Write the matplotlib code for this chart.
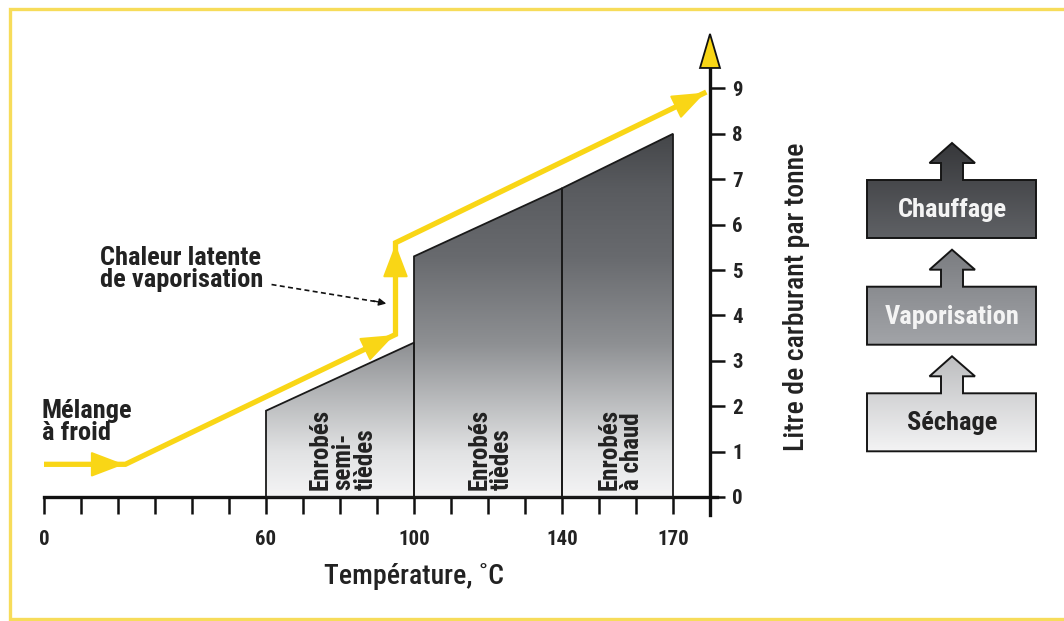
import matplotlib
matplotlib.use("Agg")
import matplotlib.pyplot as plt
import numpy as np
from matplotlib import font_manager
from matplotlib.patches import Polygon, FancyArrowPatch, ArrowStyle
from matplotlib.colors import LinearSegmentedColormap

# ---------------- data ----------------
temp_ticks = list(range(0, 190, 10))
temp_labels = {0: "0", 60: "60", 100: "100", 140: "140", 170: "170"}
fuel_ticks = list(range(0, 10))

region_names = ["Enrobés\nsemi-\ntièdes", "Enrobés\ntièdes", "Enrobés\nà chaud"]
region_x0 = [60, 100, 140]
region_x1 = [100, 140, 170]
region_y0 = [1.9, 5.3, 6.8]
region_y1 = [3.4, 6.8, 8.0]

path_x = [0, 22, 95, 95, 179]
path_y = [0.72, 0.72, 3.58, 5.6, 8.92]

stage_names = ["Séchage", "Vaporisation", "Chauffage"]

# ---------------- fonts ----------------
avail = {f.name for f in font_manager.fontManager.ttflist}
pref = ["Roboto Condensed", "Liberation Sans Narrow", "DejaVu Sans Condensed", "Open Sans Condensed", "Liberation Sans"]
FONT = next((p for p in pref if p in avail), "DejaVu Sans")
plt.rcParams["font.family"] = [FONT, "DejaVu Sans"]
BOLD = "heavy"

TXT = "#222222"
YEL = "#F9D616"

W, H = 1064, 621
fig = plt.figure(figsize=(W / 100, H / 100), dpi=100)
fig.patch.set_facecolor("white")

# background axes in pixel coordinates for decorations / legend boxes
bg = fig.add_axes([0, 0, 1, 1], zorder=0)
bg.set_xlim(0, W)
bg.set_ylim(H, 0)
bg.axis("off")
# yellow frame (top, left, bottom)
bg.plot([1064, 10, 10, 1064], [9, 9, 619, 619], color="#F7DC5A", lw=2.4, solid_joinstyle="miter")

# ---------------- main axes ----------------
px_per_x = 3.7
px_per_y = 45.4
x0_px, y0_px = 44, 497
xlim = (-5, 190)
ylim = (-1.2, 10.6)
left = (x0_px + xlim[0] * px_per_x) / W
width = (xlim[1] - xlim[0]) * px_per_x / W
bottom_px = y0_px - ylim[0] * px_per_y
top_px = y0_px - ylim[1] * px_per_y
ax = fig.add_axes([left, 1 - bottom_px / H, width, (bottom_px - top_px) / H], zorder=1)
ax.patch.set_visible(False)
ax.set_xlim(*xlim)
ax.set_ylim(*ylim)

for s in ["top", "left"]:
    ax.spines[s].set_visible(False)
ax.spines["bottom"].set_position(("data", 0))
ax.spines["right"].set_position(("data", 180))
ax.spines["bottom"].set_bounds(0, 182)
ax.spines["right"].set_bounds(-0.4, 9.5)
for s in ["bottom", "right"]:
    ax.spines[s].set_linewidth(2.4)
    ax.spines[s].set_color("#111111")

ax.set_xticks(temp_ticks)
ax.set_xticklabels([temp_labels.get(t, "") for t in temp_ticks])
ax.yaxis.tick_right()
ax.set_yticks(fuel_ticks)
ax.set_yticklabels([str(v) for v in fuel_ticks])
ax.tick_params(axis="x", direction="out", length=12, width=1.8, pad=12, labelsize=15, colors="#111111")
ax.tick_params(axis="y", direction="out", length=11, width=1.8, pad=5, labelsize=15, colors="#111111")
for lab in ax.get_xticklabels() + ax.get_yticklabels():
    lab.set_fontweight(BOLD)
    lab.set_color(TXT)

# y axis arrow head
ax.add_patch(Polygon([[177.3, 9.45], [182.7, 9.45], [180, 10.2]], closed=True,
                     facecolor=YEL, edgecolor="#111111", lw=1.3, zorder=5, clip_on=False))

# gradient regions
gcmap = LinearSegmentedColormap.from_list(
    "g", [(0.0, "#f4f4f5"), (0.12, "#e2e3e4"), (0.42, "#8e9093"), (0.66, "#686a6e"),
          (0.85, "#595b5f"), (1.0, "#444649")])
grad = np.linspace(0, 1, 256).reshape(-1, 1)
for xa, xb, ya, yb in zip(region_x0, region_x1, region_y0, region_y1):
    poly = Polygon([[xa, 0], [xa, ya], [xb, yb], [xb, 0]], closed=True,
                   facecolor="none", edgecolor="#1a1a1a", lw=1.3, zorder=3)
    ax.add_patch(poly)
    im = ax.imshow(grad, extent=[xa, xb, 0, 8.0], origin="lower", aspect="auto",
                   cmap=gcmap, vmin=0, vmax=1, zorder=2, interpolation="bilinear")
    im.set_clip_path(poly)
ax.set_xlim(*xlim)
ax.set_ylim(*ylim)

# region labels
for name, xa, xb in zip(region_names, region_x0, region_x1):
    ax.text((xa + xb) / 2 + 0.8, 0.15, name, rotation=90, ha="center", va="bottom",
            multialignment="left", fontsize=18, fontweight=BOLD, color=TXT,
            linespacing=0.92, zorder=4)

# yellow energy path
ax.plot(path_x, path_y, color=YEL, lw=3.8, solid_joinstyle="miter", solid_capstyle="butt", zorder=6)
astyle = ArrowStyle("-|>", head_length=1.05, head_width=0.4)
for i in range(len(path_x) - 1):
    xa, ya, xb, yb = path_x[i], path_y[i], path_x[i + 1], path_y[i + 1]
    f = 0.55
    ax.add_patch(FancyArrowPatch((xa + f * (xb - xa), ya + f * (yb - ya)), (xb, yb),
                                 arrowstyle=astyle, mutation_scale=20, color=YEL, lw=1.5,
                                 shrinkA=0, shrinkB=1, zorder=7))

# annotation texts
ax.text(15.0, 5.02, "Chaleur latente\nde vaporisation", ha="left", va="center", fontsize=19,
        fontweight=BOLD, color=TXT, linespacing=0.92)
ax.plot([61.5, 90.0], [4.68, 4.3], color="#111111", lw=1.2, ls=(0, (3, 2)), zorder=5)
ax.annotate("", xy=(92.5, 4.26), xytext=(89.0, 4.32),
            arrowprops=dict(arrowstyle="-|>", color="#111111", lw=1.0, mutation_scale=11,
                            shrinkA=0, shrinkB=0), zorder=5)
ax.text(-0.6, 1.65, "Mélange\nà froid", ha="left", va="center", fontsize=19,
        fontweight=BOLD, color=TXT, linespacing=0.92)

# axis titles
ax.text(100, -1.75, "Température, ˚C", ha="center", va="center", fontsize=20, color=TXT,
        fontweight="medium", clip_on=False)
ax.text(203.5, 4.4, "Litre de carburant par tonne", rotation=90, ha="center", va="center",
        fontsize=20, color=TXT, fontweight="medium", clip_on=False)

# ---------------- stage boxes (right) ----------------
box_l, box_r = 867, 1036
box_h = 58
sh_l, sh_r = 941, 963
hd_l, hd_r = 929.5, 975
cx = 952
stage_tops = [393.3, 286.7, 180.0]
stage_colors = [("#bdbec0", "#f3f3f4"), ("#7b7d81", "#a2a4a8"), ("#37383b", "#5f6165")]
text_colors = [TXT, "#f4f4f4", "#f4f4f4"]
for name, top, (ctop, cbot), tcol in zip(stage_names, stage_tops, stage_colors, text_colors):
    tip = top - 37
    hb = top - 17
    pts = [[box_l, top + box_h], [box_r, top + box_h], [box_r, top], [sh_r, top], [sh_r, hb],
           [hd_r, hb], [cx, tip], [hd_l, hb], [sh_l, hb], [sh_l, top], [box_l, top]]
    shape = Polygon(pts, closed=True, facecolor="none", edgecolor="#151515", lw=1.4,
                    joinstyle="miter", zorder=3)
    bg.add_patch(shape)
    cm = LinearSegmentedColormap.from_list("s", [ctop, cbot])
    im = bg.imshow(np.linspace(0, 1, 128).reshape(-1, 1), extent=[box_l, box_r, top + box_h, tip],
                   cmap=cm, aspect="auto", zorder=2, interpolation="bilinear")
    im.set_clip_path(shape)
    bg.text(cx, top + box_h / 2 + 1, name, ha="center", va="center", fontsize=19,
            fontweight=BOLD, color=tcol, zorder=4)
bg.set_xlim(0, W)
bg.set_ylim(H, 0)

fig.savefig("out.png", dpi=100)
